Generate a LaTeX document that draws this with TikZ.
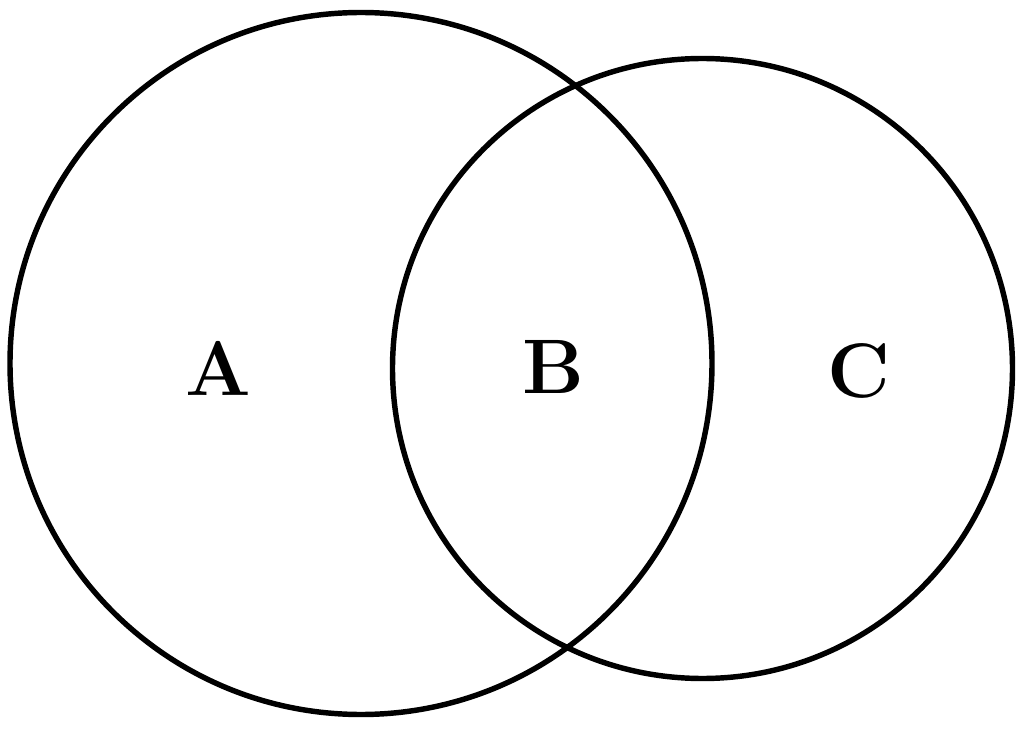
\documentclass[tikz,border=0pt]{standalone}
\usepackage{amsmath}
\usepackage{amssymb}
\usepackage{tikz}

\begin{document}
\begin{tikzpicture}[line width=3.1pt]
        \useasboundingbox (0,0) rectangle (20.48,-14.58); % поле
        \draw (7.22,-7.27) circle (7.02cm); % левый круг
        \draw (14.05,-7.37) circle (6.2cm); % правый круг

        \node [font=\fontsize{44}{44}\selectfont\bfseries] (A) at (4.36,-7.36) {A}; % обозн A
        \node [font=\fontsize{44}{44}\selectfont\bfseries] (B) at (11.06,-7.34) {B}; % обозн B
        \node [font=\fontsize{44}{44}\selectfont\bfseries] (C) at (17.18,-7.42) {C}; % обозн C
    \end{tikzpicture}
\end{document}
